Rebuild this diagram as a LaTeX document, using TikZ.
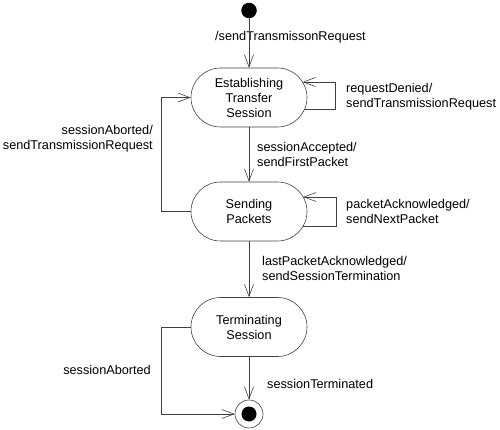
\documentclass[tikz,border=0pt]{standalone}
\usepackage{fontspec}
\setmainfont{Liberation Sans}
\usetikzlibrary{arrows.meta,calc}
\begin{document}
\begin{tikzpicture}[x=1pt,y=-1pt,
  state/.style={draw=black!75, line width=0.6pt, rounded corners=29.5pt, minimum width=116pt, minimum height=59pt, inner sep=0pt, align=center, font=\fontsize{12.7}{15}\selectfont},
  lbl/.style={font=\fontsize{12.7}{15}\selectfont, inner sep=0pt},
  ln/.style={draw=black!75, line width=0.6pt},
  arr/.style={ln, -{Straight Barb[length=12pt,width=9pt]}}]
\useasboundingbox (0,0) rectangle (500,430);

\node[circle, fill=black, minimum size=15.5pt, inner sep=0pt] (init) at (249,10.5) {};
\node[state] (s1) at (249,97.5) {Establishing\\Transfer\\Session};
\node[state] (s2) at (249,211.5) {Sending\\Packets};
\node[state] (s3) at (249,327) {Terminating\\Session};
\node[circle, draw=black!75, line width=0.6pt, minimum size=28pt, inner sep=0pt] (fin) at (249,414) {};
\node[circle, fill=black, minimum size=15pt, inner sep=0pt] (finin) at (fin.center) {};

% labels
\node[lbl, anchor=west] (l0) at (215,37.5) {/sendTransmissonRequest};
\node[lbl, anchor=west, align=left] (l1) at (346,96.5) {requestDenied/\\sendTransmissionRequest};
\node[lbl, anchor=east, align=right] (l2) at (153,139) {sessionAborted/\\sendTransmissionRequest};
\node[lbl, anchor=west, align=left] (l3) at (257,154.5) {sessionAccepted/\\sendFirstPacket};
\node[lbl, anchor=west, align=left] (l4) at (346,211.5) {packetAcknowledged/\\sendNextPacket};
\node[lbl, anchor=west, align=left] (l5) at (262,268.5) {lastPacketAcknowledged/\\sendSessionTermination};
\node[lbl, anchor=east] (l6) at (151,370) {sessionAborted};
\node[lbl, anchor=west] (l7) at (267,384) {sessionTerminated};

% helper coordinates on the borders
\coordinate (s1a) at ($(s1.center)+(53.6,-15.5)$);
\coordinate (s1b) at ($(s1.center)+(55.7,11.5)$);
\coordinate (s2a) at ($(s2.center)+(54.2,-14.5)$);
\coordinate (s2b) at ($(s2.center)+(54.2,14.5)$);

% transitions
\draw[arr] (init) -- (s1);
\draw[arr] (s1b) -- ++(30.3,0) |- (s1a);
\draw[arr] (s1) -- (s2);
\draw[arr] (s2b) -- ++(32.8,0) |- (s2a);
\draw[arr] (s2.west) -- ++(-29.5,0) |- (s1.west);
\draw[arr] (s2) -- (s3);
\draw[arr] (s3) -- (fin);
\draw[arr] (s3.west) -- ++(-29,0) |- (fin.west);
\end{tikzpicture}
\end{document}
